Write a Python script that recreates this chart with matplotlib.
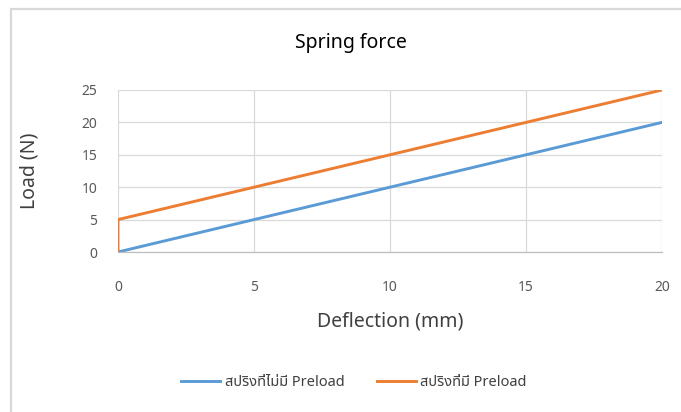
import matplotlib
matplotlib.use("Agg")
import matplotlib.pyplot as plt
from matplotlib.patches import Rectangle

# Data
x_no_preload = [0, 1, 2, 3, 4, 5, 6, 7, 8, 9, 10, 11, 12, 13, 14, 15, 16, 17, 18, 19, 20]
y_no_preload = [0, 1, 2, 3, 4, 5, 6, 7, 8, 9, 10, 11, 12, 13, 14, 15, 16, 17, 18, 19, 20]
x_preload = [0, 0, 1, 2, 3, 4, 5, 6, 7, 8, 9, 10, 11, 12, 13, 14, 15, 16, 17, 18, 19, 20]
y_preload = [0, 5, 6, 7, 8, 9, 10, 11, 12, 13, 14, 15, 16, 17, 18, 19, 20, 21, 22, 23, 24, 25]
label_no_preload = "สปริงที่ไม่มี Preload"
label_preload = "สปริงที่มี Preload"
x_ticks = [0, 5, 10, 15, 20]
y_ticks = [0, 5, 10, 15, 20, 25]

FAM = ['Noto Sans', 'Noto Sans Thai', 'DejaVu Sans']
plt.rcParams['font.family'] = FAM

W, H = 681, 412
fig = plt.figure(figsize=(W / 100, H / 100), dpi=100)

# chart area border (partially visible)
fig.patches.append(Rectangle((10.5 / W, -0.05), 1.0, (H - 9) / H + 0.05,
                             transform=fig.transFigure, fill=False,
                             edgecolor='#d9d9d9', linewidth=1.6))

ax = fig.add_axes([118 / W, 1 - 252 / H, (662 - 118) / W, (252 - 90) / H])
ax.plot(x_no_preload, y_no_preload, color='#5b9bd5', lw=2.1, label=label_no_preload,
        solid_joinstyle='round')
ax.plot(x_preload, y_preload, color='#ed7d31', lw=2.1, label=label_preload,
        solid_joinstyle='round')

ax.set_xlim(0, 20)
ax.set_ylim(0, 25)
ax.set_xticks(x_ticks)
ax.set_yticks(y_ticks)
ax.grid(True, color='#d9d9d9', linewidth=0.9)
ax.set_axisbelow(True)
for s in ['top', 'right', 'left']:
    ax.spines[s].set_visible(False)
ax.spines['bottom'].set_color('#bfbfbf')
ax.spines['bottom'].set_linewidth(0.9)
ax.tick_params(length=0, labelsize=10, labelcolor='#595959')
ax.tick_params(axis='x', pad=20)
ax.tick_params(axis='y', pad=15)

fig.text(351 / W, 1 - 43 / H, "Spring force", fontsize=14, color='#000000',
         ha='center', va='center')
fig.text(390 / W, 1 - 322 / H, "Deflection (mm)", fontsize=14, color='#404040',
         ha='center', va='center')
fig.text(30 / W, 1 - 171 / H, "Load (N)", fontsize=14, color='#404040',
         ha='center', va='center', rotation=90)

leg = fig.legend(loc='center', bbox_to_anchor=(354 / W, 1 - 383 / H), ncol=2,
                 frameon=False, fontsize=10.5, handlelength=2.7, columnspacing=2.2,
                 handletextpad=0.3)
for t in leg.get_texts():
    t.set_color('#404040')

fig.savefig("out.png", dpi=100)
